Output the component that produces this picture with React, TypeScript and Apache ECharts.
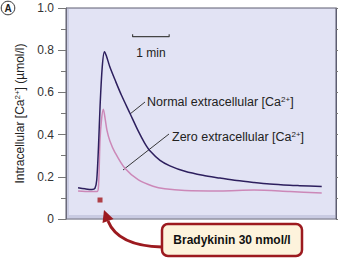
import React, { useEffect, useRef } from "react";
import * as echarts from "echarts";

// time in minutes, intracellular [Ca2+] in µmol/l
const normalTime = [0.33, 0.52, 0.71, 0.79, 0.84, 0.89, 0.93, 0.99, 1.05, 1.1, 1.2, 1.35, 1.52, 1.75, 1.98, 2.15, 2.3, 2.57, 2.84, 3.25, 3.74, 4.21, 4.67, 5.14, 5.57, 6.12, 6.39, 6.99];
const normalValues = [0.148, 0.143, 0.14, 0.145, 0.185, 0.35, 0.53, 0.72, 0.793, 0.775, 0.72, 0.655, 0.585, 0.5, 0.415, 0.36, 0.322, 0.278, 0.252, 0.226, 0.207, 0.194, 0.182, 0.173, 0.166, 0.16, 0.158, 0.154];
const zeroTime = [0.33, 0.66, 0.85, 0.89, 0.93, 0.97, 1.02, 1.07, 1.12, 1.2, 1.34, 1.61, 1.98, 2.38, 2.7, 3.25, 4.21, 5.14, 6.12, 6.99];
const zeroValues = [0.133, 0.13, 0.13, 0.16, 0.374, 0.47, 0.52, 0.475, 0.42, 0.37, 0.315, 0.24, 0.185, 0.155, 0.143, 0.135, 0.133, 0.137, 0.13, 0.123];
const stimulusTime = [0.93];
const stimulusValue = [0.09];
const scaleBarTime = [1.82, 2.82];
const scaleBarValue = 0.864;
const yTicks = [0, 0.2, 0.4, 0.6, 0.8, 1.0];

const FONT = "'Liberation Sans', Arial, Helvetica, sans-serif";

export default function App() {
  const ref = useRef<HTMLDivElement>(null);
  useEffect(() => {
    if (!ref.current) return;
    const chart = echarts.init(ref.current, undefined, { renderer: "svg" });
    const sup = { fontSize: 8, fontFamily: FONT, verticalAlign: "top", padding: [0, 0, 5, 0], color: "#222" };
    chart.setOption({
      animation: false,
      grid: {
        left: 66, right: 2, top: 8, bottom: 39,
        show: true, backgroundColor: "#e2e3f4", borderColor: "#5d5d70", borderWidth: 1,
      },
      xAxis: { type: "value", min: 0, max: 7.38, show: false },
      yAxis: [
        {
          type: "value", min: 0, max: 1, interval: 0.2, position: "left",
          name: "Intracellular [Ca{sup|2+}] (µmol/l)",
          nameLocation: "middle", nameGap: 40, nameRotate: 90,
          nameTextStyle: { fontSize: 12, fontFamily: FONT, color: "#222", rich: { sup } },
          axisLine: { show: true, lineStyle: { color: "#6a6a7a" } },
          axisTick: { show: true, length: 8, lineStyle: { color: "#777" } },
          minorTick: { show: true, splitNumber: 2, length: 5, lineStyle: { color: "#777" } },
          splitLine: { show: false },
          axisLabel: {
            margin: 12, fontSize: 12, fontFamily: FONT, color: "#333",
            formatter: (v: number) => (yTicks.includes(Math.round(v * 10) / 10) ? (v === 0 ? "0" : v.toFixed(1)) : ""),
          },
        },
        {
          type: "value", min: 0, max: 1, interval: 0.1, position: "right",
          axisLine: { show: true, lineStyle: { color: "#5d5d70" } },
          axisTick: { show: true, length: 3, lineStyle: { color: "#777" } },
          axisLabel: { show: false },
          splitLine: { show: false },
        },
      ],
      series: [
        {
          name: "Normal extracellular",
          type: "line",
          data: normalTime.map((t, i) => [t, normalValues[i]]),
          smooth: 0.3, showSymbol: false,
          lineStyle: { color: "#2d1f5e", width: 1.5 },
          z: 3,
        },
        {
          name: "Zero extracellular",
          type: "line",
          data: zeroTime.map((t, i) => [t, zeroValues[i]]),
          smooth: 0.3, showSymbol: false,
          lineStyle: { color: "#cc88b8", width: 1.5 },
          z: 2,
        },
        {
          name: "stimulus",
          type: "scatter",
          data: stimulusTime.map((t, i) => [t, stimulusValue[i]]),
          symbol: "rect", symbolSize: 5,
          itemStyle: { color: "#a3161c" },
        },
        {
          name: "scale bar",
          type: "line",
          data: [
            [scaleBarTime[0], scaleBarValue + 0.012],
            [scaleBarTime[0], scaleBarValue],
            [scaleBarTime[1], scaleBarValue],
            [scaleBarTime[1], scaleBarValue + 0.012],
          ],
          showSymbol: false,
          lineStyle: { color: "#444", width: 1.2 },
        },
      ],
      graphic: [
        { type: "rect", shape: { x: 67, y: 9, width: 2, height: 209 }, style: { fill: "#c9cbe2" }, silent: true },
        { type: "rect", shape: { x: 67, y: 215, width: 268, height: 3 }, style: { fill: "#c9cbe2" }, silent: true },
        { type: "text", x: 151, y: 53, style: { text: "1 min", fontSize: 12, fontFamily: FONT, fill: "#222", align: "center", verticalAlign: "middle" } },
        {
          type: "text", x: 147, y: 102,
          style: { text: "Normal extracellular [Ca{sup|2+}]", fontSize: 12.5, fontFamily: FONT, fill: "#222", verticalAlign: "middle", rich: { sup } },
        },
        {
          type: "text", x: 172, y: 137,
          style: { text: "Zero extracellular [Ca{sup|2+}]", fontSize: 12.5, fontFamily: FONT, fill: "#222", verticalAlign: "middle", rich: { sup } },
        },
        { type: "line", shape: { x1: 145, y1: 102, x2: 130, y2: 114 }, style: { stroke: "#222", lineWidth: 0.9 } },
        { type: "line", shape: { x1: 169, y1: 134, x2: 123, y2: 170 }, style: { stroke: "#222", lineWidth: 0.9 } },
        {
          type: "bezierCurve",
          shape: { x1: 162, y1: 247, cpx1: 118, cpy1: 246, x2: 108, y2: 221 },
          style: { stroke: "#9c1a1f", lineWidth: 3, fill: null },
        },
        {
          type: "polygon",
          shape: { points: [[104, 210], [113.5, 219], [102.5, 223]] },
          style: { fill: "#9c1a1f" },
        },
        {
          type: "rect",
          shape: { x: 162, y: 224, width: 140, height: 32, r: 6 },
          style: { fill: "#fdf3dc", stroke: "#9c1a1f", lineWidth: 2.5 },
        },
        {
          type: "text", x: 232, y: 240,
          style: { text: "Bradykinin 30 nmol/l", fontSize: 12, fontWeight: "bold", fontFamily: FONT, fill: "#111", align: "center", verticalAlign: "middle" },
        },
        { type: "circle", shape: { cx: 8, cy: 8, r: 6.8 }, style: { fill: "#fff", stroke: "#333", lineWidth: 1 } },
        { type: "text", x: 8, y: 8.5, style: { text: "A", fontSize: 10, fontWeight: "bold", fontFamily: FONT, fill: "#222", align: "center", verticalAlign: "middle" } },
      ],
    });
    return () => chart.dispose();
  }, []);
  return <div ref={ref} style={{ position: "absolute", left: 0, top: 0, width: 338, height: 258 }} />;
}
